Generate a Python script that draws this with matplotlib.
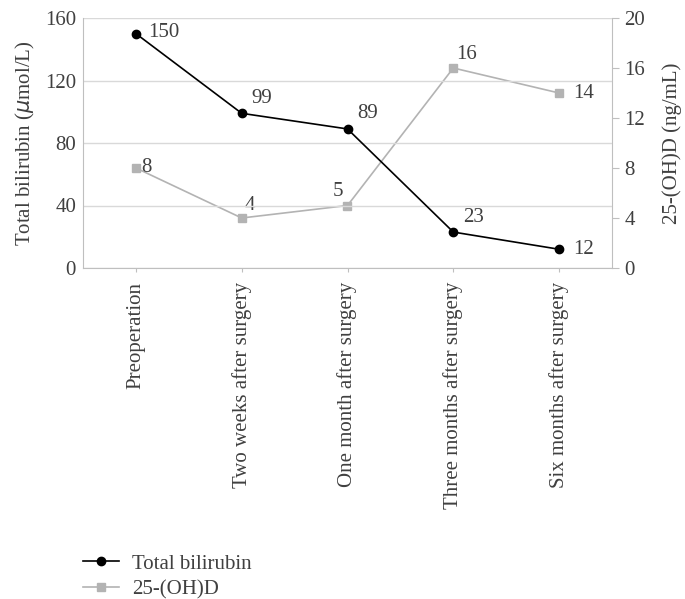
import matplotlib.pyplot as plt
import numpy as np

categories = ["Preoperation", "Two weeks after surgery", "One month after surgery",
              "Three months after surgery", "Six months after surgery"]
bilirubin = [150, 99, 89, 23, 12]
vitd = [8, 4, 5, 16, 14]

left_ticks = [0, 40, 80, 120, 160]
right_ticks = [0, 4, 8, 12, 16, 20]

plt.rcParams['font.family'] = ['Liberation Serif', 'DejaVu Serif']
txt = '#404040'
grid = '#d9d9d9'
gray = '#b3b3b3'
fs = 15

fig = plt.figure(figsize=(6.85, 5.99), dpi=100)
ax = fig.add_axes([83/685, 1-268/599, (612-83)/685, (268-18)/599])
ax2 = ax.twinx()
ax.set_zorder(ax2.get_zorder() + 1)
ax.patch.set_visible(False)

x = np.arange(len(categories))

l2, = ax2.plot(x, vitd, color=gray, lw=1.2, marker='s', ms=6, label='25-(OH)D')
l1, = ax.plot(x, bilirubin, color='black', lw=1.2, marker='o', ms=6, label='Total bilirubin')

# data labels
b_off = [(9, 1), (7, 4), (7, 4), (7, 4), (10, 0)]
for xi, v, o in zip(x, bilirubin, b_off):
    ax.annotate(str(v), (xi, v), xytext=o, textcoords='offset points',
                ha='left', va='center' if o[1] < 2 else 'bottom', fontsize=fs, color=txt)
v_off = [(4, 0), (2, 2), (-3, 3), (2, 3), (10, 0)]
v_ha = ['left', 'left', 'right', 'left', 'left']
for xi, v, o, h in zip(x, vitd, v_off, v_ha):
    ax2.annotate(str(v), (xi, v), xytext=o, textcoords='offset points',
                 ha=h, va='bottom' if o[1] > 0 else 'center', fontsize=fs, color=txt)

ax.set_xlim(-0.5, len(categories) - 0.5)
ax.set_ylim(0, 160)
ax2.set_ylim(0, 20)
ax.set_yticks(left_ticks)
ax2.set_yticks(right_ticks)
ax.set_xticks(x)
ax.set_xticklabels(categories, rotation=90, va='top', ha='center')

ax.yaxis.grid(True, color=grid, lw=1)
ax.set_axisbelow(True)

for a in (ax, ax2):
    for s in a.spines.values():
        s.set_visible(False)
ax.spines['left'].set_visible(True)
ax.spines['left'].set_color('#bfbfbf')
ax.spines['bottom'].set_visible(True)
ax.spines['bottom'].set_color('#bfbfbf')
ax2.spines['right'].set_visible(True)
ax2.spines['right'].set_color('#bfbfbf')

ax.tick_params(axis='y', length=0, labelsize=fs, labelcolor=txt, pad=5)
ax.tick_params(axis='x', length=3, color='#bfbfbf', labelsize=fs, labelcolor=txt, pad=7)
ax2.tick_params(axis='y', length=5, color='#bfbfbf', labelsize=fs, labelcolor=txt, pad=4)

ax.set_ylabel('Total bilirubin ($\\mu$mol/L)', fontsize=fs, color=txt, labelpad=6)
ax2.set_ylabel('25-(OH)D (ng/mL)', fontsize=fs, color=txt, labelpad=12)

fig.legend(handles=[l1, l2], loc='upper left', bbox_to_anchor=(83/685, 1-554/599),
           frameon=False, fontsize=fs, handlelength=1.75, handletextpad=0.6,
           labelspacing=0.3, labelcolor=txt, borderaxespad=0, borderpad=0)

fig.savefig('out.png', dpi=100)
